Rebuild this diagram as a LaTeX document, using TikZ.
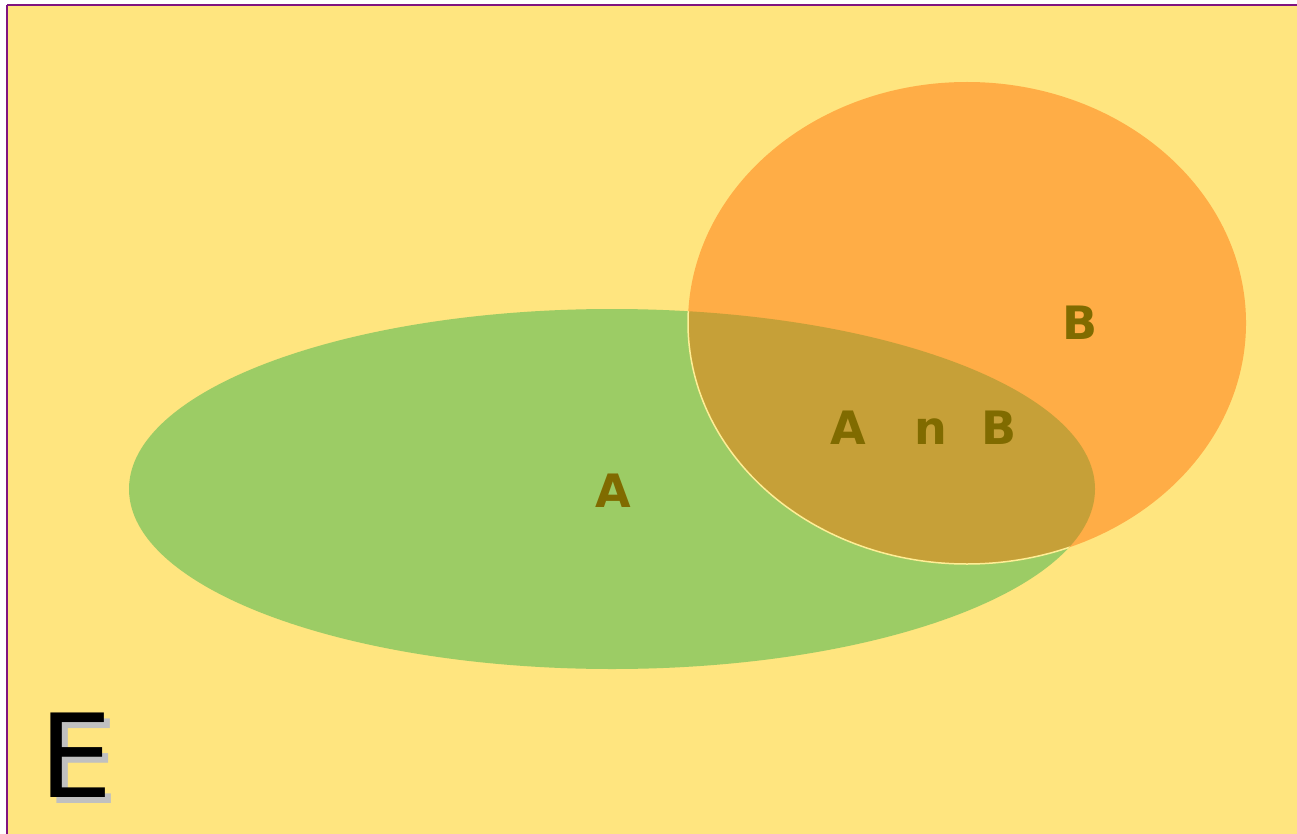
\documentclass[tikz,border=0pt]{standalone}
\usepackage{fontspec}
\setmainfont{DejaVu Sans}
\definecolor{bgyellow}{RGB}{255,229,127}
\definecolor{setgreen}{RGB}{156,204,101}
\definecolor{setorange}{RGB}{255,173,70}
\definecolor{setboth}{RGB}{198,160,56}
\definecolor{labelbrown}{RGB}{128,107,0}
\definecolor{framepurple}{RGB}{128,20,128}
\definecolor{rimyellow}{RGB}{255,238,150}
\definecolor{shadowgray}{RGB}{192,192,192}
\tikzset{
  setlabel/.style={text=labelbrown, font=\bfseries\fontsize{46}{46}\selectfont, inner sep=0pt},
  universe/.style={font=\fontsize{116}{116}\selectfont, inner sep=0pt, anchor=base west}
}
\begin{document}
\begin{tikzpicture}[x=1pt,y=-1pt]
  \useasboundingbox (0,0) rectangle (1297,834);
  \fill[white] (0,0) rectangle (1297,834);
  % universe E
  \fill[bgyellow] (7,5) rectangle (1310,850);
  \draw[framepurple, line width=2pt] (7.3,5.5) -- (1310,5.5);
  \draw[framepurple, line width=2pt] (7.3,5.5) -- (7.3,850);
  % sets
  \coordinate (ca) at (612,489);
  \coordinate (cb) at (967,323);
  \fill[setgreen] (ca) ellipse [x radius=483, y radius=180];
  \fill[setorange] (cb) ellipse [x radius=279, y radius=241];
  \begin{scope}
    \clip (cb) ellipse [x radius=279, y radius=241];
    \fill[setboth] (ca) ellipse [x radius=483, y radius=180];
  \end{scope}
  \begin{scope}
    \clip (ca) ellipse [x radius=483, y radius=180];
    \draw[rimyellow, line width=1.5pt] (cb) ellipse [x radius=279, y radius=241];
  \end{scope}
  % labels
  \node[setlabel] (la) at (613,491) {A};
  \node[setlabel] (lb) at (1080,323) {B};
  \node[setlabel] (lab) at (923.5,428) {A\hspace{48pt}n\hspace{34pt}B};
  \node[universe, text=shadowgray] (eshadow) at (45,803) {E};
  \node[universe, text=black] (e) at (39,797) {E};
\end{tikzpicture}
\end{document}
